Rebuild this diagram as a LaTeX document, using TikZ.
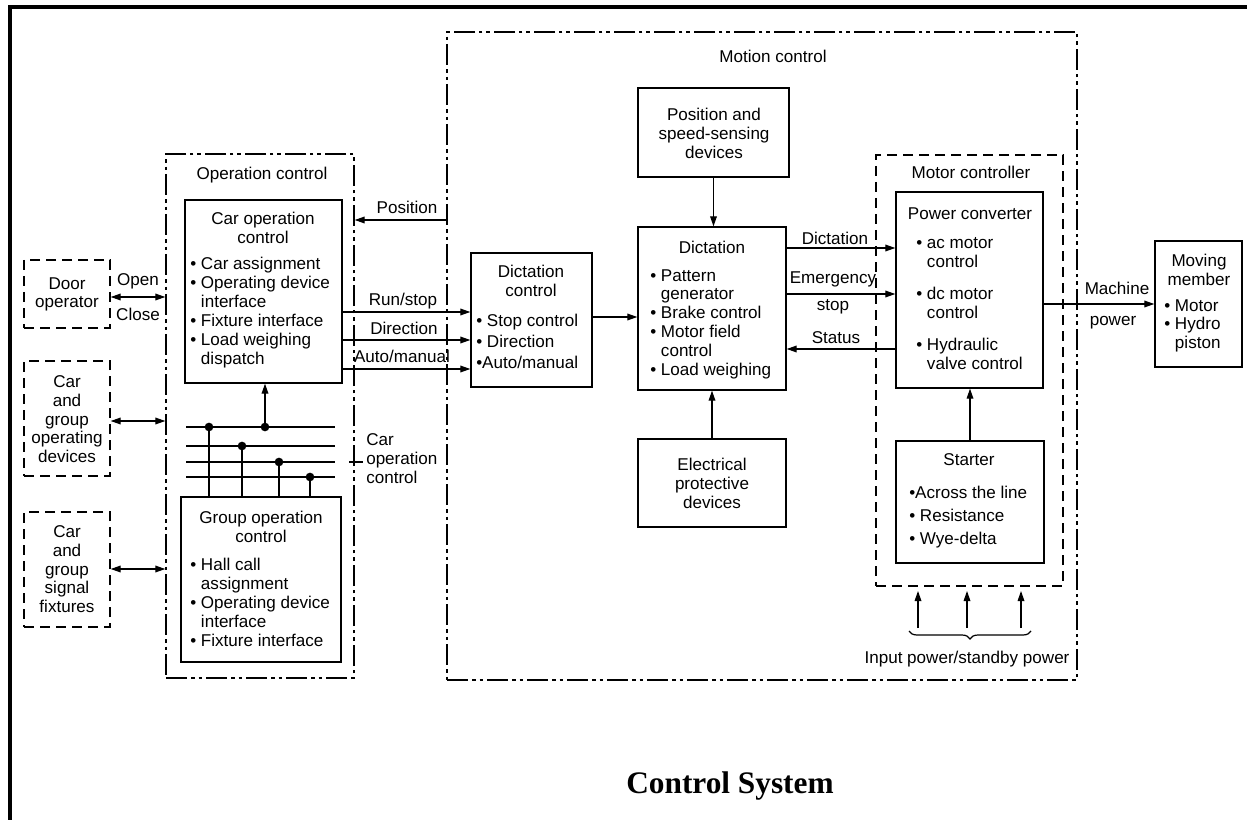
\documentclass[tikz,border=0pt]{standalone}
\usepackage{fontspec}
\setmainfont{Liberation Sans}
\newfontfamily\titlefont{Liberation Serif}
\usetikzlibrary{arrows.meta,fit,decorations.pathreplacing,calc}
\newcommand{\mybul}{\textbullet\ }
\newcommand{\myind}{\phantom{\textbullet\ }}
\tikzset{
  box/.style={draw, line width=1pt, inner sep=0pt},
  dbox/.style={draw, line width=1pt, dash pattern=on 7.5pt off 4.5pt, inner sep=0pt},
  ddbox/.style={draw, line width=1pt, dash pattern=on 16pt off 3pt on 2.5pt off 3pt on 2.5pt off 3pt, inner sep=0pt},
  txt/.style={inner sep=0pt, font=\fontsize{12.8}{14.2}\selectfont, execute at begin node=\strut},
  arr/.style={line width=0.9pt, -{Triangle[length=7.5pt,width=5pt]}},
  darr/.style={line width=0.9pt, {Triangle[length=7.5pt,width=5pt]}-{Triangle[length=7.5pt,width=5pt]}},
  ln/.style={line width=0.9pt},
  dot/.style={circle, fill, inner sep=0pt, minimum size=6.5pt},
  frame/.style={line width=2.3pt},
}
\begin{document}
\begin{tikzpicture}[x=0.75pt,y=-0.75pt]
\useasboundingbox (0,0) rectangle (1247,820);
% outer frame (top and left only)
\draw[frame] (1247,7) -- (10,7) -- (10,820);

% ---------- boxes ----------
\node[ddbox, fit={(166,154) (354,678)}] (opbox) {};
\node[box, fit={(185,200) (342,383)}] (carop) {};
\node[box, fit={(181,497) (341,662)}] (group) {};
\node[dbox, fit={(24,260) (110,328)}] (door) {};
\node[dbox, fit={(24,361) (110,476)}] (cgod) {};
\node[dbox, fit={(24,512) (110,627)}] (cgsf) {};

\node[ddbox, fit={(447,32) (1077,680)}] (motion) {};
\node[box, fit={(638,88) (789,177)}] (pss) {};
\node[box, fit={(638,227) (786,390)}] (dict) {};
\node[box, fit={(471,253) (592,387)}] (dctl) {};
\node[box, fit={(638,439) (786,527)}] (epd) {};
\node[dbox, fit={(876,155) (1063,586)}] (mctl) {};
\node[box, fit={(896,192) (1043,388)}] (pc) {};
\node[box, fit={(896,441) (1044,563)}] (starter) {};
\node[box, fit={(1155,241) (1242,367)}] (moving) {};

% ---------- texts ----------
\node[txt, anchor=north] (t_opc) at (262,166) {Operation control};
\node[txt, anchor=north, align=center] (t_carop1) at (263,212) {Car operation\\control};
\node[txt, anchor=north west, align=left] (t_carop2) at (190,257)
  {\mybul Car assignment\\\mybul Operating device\\\myind interface\\\mybul Fixture interface\\\mybul Load weighing\\\myind dispatch};
\node[txt, anchor=north, align=center] (t_door) at (67,277) {Door\\operator};
\node[txt, anchor=north] (t_open) at (138,272) {Open};
\node[txt, anchor=north] (t_close) at (138,307) {Close};
\node[txt, anchor=north, align=center] (t_cgod) at (67,375) {Car\\and\\group\\operating\\devices};
\node[txt, anchor=north, align=center] (t_cgsf) at (67,525) {Car\\and\\group\\signal\\fixtures};
\node[txt, anchor=north, align=center] (t_group1) at (261,511) {Group operation\\control};
\node[txt, anchor=north west, align=left] (t_group2) at (190,558)
  {\mybul Hall call\\\myind assignment\\\mybul Operating device\\\myind interface\\\mybul Fixture interface};
\node[txt, anchor=north west, align=left] (t_cocl) at (366,433) {Car\\operation\\control};
\node[txt, anchor=north] (t_pos) at (407,200) {Position};
\node[txt, anchor=north] (t_run) at (403,292) {Run/stop};
\node[txt, anchor=north] (t_dir) at (404,321) {Direction};
\node[txt, anchor=north] (t_auto) at (402,349) {Auto/manual};

\node[txt, anchor=north] (t_motion) at (773,49) {Motion control};
\node[txt, anchor=north, align=center] (t_pss) at (714,108) {Position and\\speed-sensing\\devices};
\node[txt, anchor=north] (t_dict1) at (712,240) {Dictation};
\node[txt, anchor=north west, align=left] (t_dict2) at (650,269)
  {\mybul Pattern\\\myind generator\\\mybul Brake control\\\mybul Motor field\\\myind control\\\mybul Load weighing};
\node[txt, anchor=north, align=center] (t_dc1) at (531,265) {Dictation\\control};
\node[txt, anchor=north west, align=left] (t_dc2) at (476,314)
  {\mybul Stop control\\[1.5pt]\mybul Direction\\[1.5pt]\textbullet Auto/manual};
\node[txt, anchor=north] (t_dictlab) at (835,231) {Dictation};
\node[txt, anchor=north] (t_emerg) at (833,270) {Emergency};
\node[txt, anchor=north] (t_stop) at (833,297) {stop};
\node[txt, anchor=north] (t_status) at (836,330) {Status};
\node[txt, anchor=north] (t_mc) at (971,165) {Motor controller};
\node[txt, anchor=north] (t_pc1) at (970,206) {Power converter};
\node[txt, anchor=north west, align=left] (t_pc2) at (916,237)
  {\mybul ac motor\\\myind control\\[10pt]\mybul dc motor\\\myind control\\[10pt]\mybul Hydraulic\\\myind valve control};
\node[txt, anchor=north] (t_mach) at (1117,281) {Machine};
\node[txt, anchor=north] (t_power) at (1113,312) {power};
\node[txt, anchor=north, align=center] (t_mm1) at (1199,254) {Moving\\member};
\node[txt, anchor=north west, align=left] (t_mm2) at (1164,299) {\mybul Motor\\\mybul Hydro\\\myind piston};
\node[txt, anchor=north] (t_starter) at (969,452) {Starter};
\node[txt, anchor=north west, align=left] (t_st2) at (909,486)
  {\textbullet Across the line\\[3pt]\mybul Resistance\\[3pt]\mybul Wye-delta};
\node[txt, anchor=north, align=center] (t_epd) at (712,458) {Electrical\\protective\\devices};
\node[txt, anchor=north] (t_input) at (967,650) {Input power/standby power};
\node[font=\titlefont\bfseries\fontsize{23.5}{28}\selectfont, inner sep=0pt] (title) at (730,786) {Control System};

% ---------- helper coordinates ----------
\coordinate (yOpen) at (0,297);
\coordinate (yCgod) at (0,421);
\coordinate (yCgsf) at (0,569);
\coordinate (yPos) at (0,220);
\coordinate (yRun) at (0,312);
\coordinate (yDir) at (0,340);
\coordinate (yAuto) at (0,369);
\coordinate (yDc) at (0,317);
\coordinate (yDict) at (0,248);
\coordinate (yEmerg) at (0,294);
\coordinate (yStat) at (0,349);
\coordinate (yMach) at (0,304);

% ---------- connectors ----------
\draw[darr] (door.east |- yOpen) -- (opbox.west |- yOpen);
\draw[darr] (cgod.east |- yCgod) -- (opbox.west |- yCgod);
\draw[darr] (cgsf.east |- yCgsf) -- (opbox.west |- yCgsf);
\draw[arr] (motion.west |- yPos) -- (opbox.east |- yPos);
\draw[arr] (carop.east |- yRun) -- (dctl.west |- yRun);
\draw[arr] (carop.east |- yDir) -- (dctl.west |- yDir);
\draw[arr] (carop.east |- yAuto) -- (dctl.west |- yAuto);
\draw[arr] (dctl.east |- yDc) -- (dict.west |- yDc);
\draw[arr] (pss.south) -- (pss.south |- dict.north);
\draw[arr] (epd.north) -- (epd.north |- dict.south);
\draw[arr] (dict.east |- yDict) -- (pc.west |- yDict);
\draw[arr] (dict.east |- yEmerg) -- (pc.west |- yEmerg);
\draw[arr] (pc.west |- yStat) -- (dict.east |- yStat);
\draw[arr] (pc.east |- yMach) -- (moving.west |- yMach);
\draw[arr] (starter.north) -- (starter.north |- pc.south);

% bus lines of car operation control
\coordinate (bL1) at (186,427); \coordinate (bR1) at (335,427);
\coordinate (bL2) at (186,446); \coordinate (bR2) at (335,446);
\coordinate (bL3) at (186,462); \coordinate (bR3) at (335,462);
\coordinate (bL4) at (186,477); \coordinate (bR4) at (335,477);
\draw[ln] (bL1) -- (bR1);
\draw[ln] (bL2) -- (bR2);
\draw[ln] (bL3) -- (bR3);
\draw[ln] (bL4) -- (bR4);
\node[dot] (d0) at (265,427) {};
\node[dot] (d1) at (209,427) {};
\node[dot] (d2) at (242,446) {};
\node[dot] (d3) at (279,462) {};
\node[dot] (d4) at (310,477) {};
\draw[arr] (d0.center) -- (d0.center |- carop.south);
\draw[ln] (d1.center) -- (d1.center |- group.north);
\draw[ln] (d2.center) -- (d2.center |- group.north);
\draw[ln] (d3.center) -- (d3.center |- group.north);
\draw[ln] (d4.center) -- (d4.center |- group.north);
% leader to "Car operation control"
\coordinate (ldA) at (349,462); \coordinate (ldB) at (363,462);
\draw[ln] (ldA) -- (ldB);

% input power arrows and brace
\coordinate (in1) at (918,628); \coordinate (in2) at (967,628); \coordinate (in3) at (1021,628);
\coordinate (tip) at (0,591);
\draw[arr] (in1) -- (in1 |- tip);
\draw[arr] (in2) -- (in2 |- tip);
\draw[arr] (in3) -- (in3 |- tip);
\coordinate (brL) at (909,631); \coordinate (brR) at (1031,631);
\draw[ln, decorate, decoration={brace, amplitude=6pt, mirror}] (brL) -- (brR);
\end{tikzpicture}
\end{document}
